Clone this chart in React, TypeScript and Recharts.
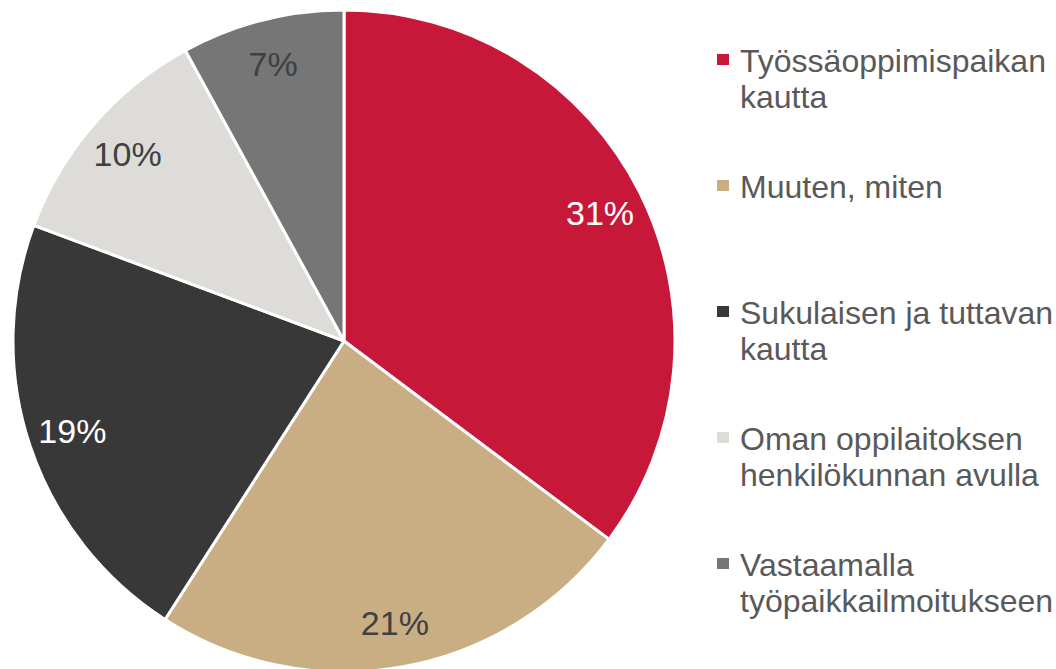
import { PieChart, Pie, Cell, Legend } from 'recharts';

const categories = [
  'Työssäoppimispaikan kautta',
  'Muuten, miten',
  'Sukulaisen ja tuttavan kautta',
  'Oman oppilaitoksen henkilökunnan avulla',
  'Vastaamalla työpaikkailmoitukseen',
];
// legend wraps as in the original
const legendLines = [
  ['Työssäoppimispaikan', 'kautta'],
  ['Muuten, miten'],
  ['Sukulaisen ja tuttavan', 'kautta'],
  ['Oman oppilaitoksen', 'henkilökunnan avulla'],
  ['Vastaamalla', 'työpaikkailmoitukseen'],
];
const values = [31, 21, 19, 10, 7];
const colors = ['#C8183A', '#C9AE84', '#383838', '#DDDCD8', '#767676'];
const labelColors = ['#FFFFFF', '#404040', '#FFFFFF', '#404040', '#404040'];

const data = categories.map((name, i) => ({ name, value: values[i] }));

const FONT = '"Liberation Sans", Arial, sans-serif';
const RAD = Math.PI / 180;

const renderLabel = (props: any) => {
  const { cx, cy, midAngle, outerRadius, index, value } = props;
  const r = outerRadius * 0.865;
  const x = cx + r * Math.cos(-midAngle * RAD);
  const y = cy + r * Math.sin(-midAngle * RAD);
  return (
    <text x={x} y={y} fill={labelColors[index]} textAnchor="middle" dominantBaseline="central"
      style={{ fontFamily: FONT, fontSize: 34 }}>
      {value}%
    </text>
  );
};

const renderLegend = () => (
  <div style={{ fontFamily: FONT, fontSize: 32, color: '#595959', lineHeight: '36px' }}>
    {legendLines.map((lines, i) => (
      <div key={i} style={{ position: 'absolute', top: i * 126, left: 0, whiteSpace: 'nowrap' }}>
        <span style={{ position: 'absolute', left: 2, top: 11, width: 12, height: 11, background: colors[i] }} />
        <div style={{ marginLeft: 25 }}>
          {lines.map((l, j) => <div key={j}>{l}</div>)}
        </div>
      </div>
    ))}
  </div>
);

export default function App() {
  return (
    <div style={{ position: 'absolute', left: 0, top: 0, width: 1056, height: 669, background: '#fff' }}>
      <PieChart width={1056} height={669} margin={{ top: 0, right: 0, bottom: 0, left: 0 }}>
        <Pie
          data={data}
          dataKey="value"
          nameKey="name"
          cx={344}
          cy={341}
          outerRadius={331}
          startAngle={90}
          endAngle={-270}
          stroke="#FFFFFF"
          strokeWidth={3}
          label={renderLabel}
          labelLine={false}
          isAnimationActive={false}
        >
          {data.map((d, i) => <Cell key={d.name} fill={colors[i]} />)}
        </Pie>
        <Legend content={renderLegend} wrapperStyle={{ position: 'absolute', left: 715, top: 43, width: 340 }} />
      </PieChart>
    </div>
  );
}
